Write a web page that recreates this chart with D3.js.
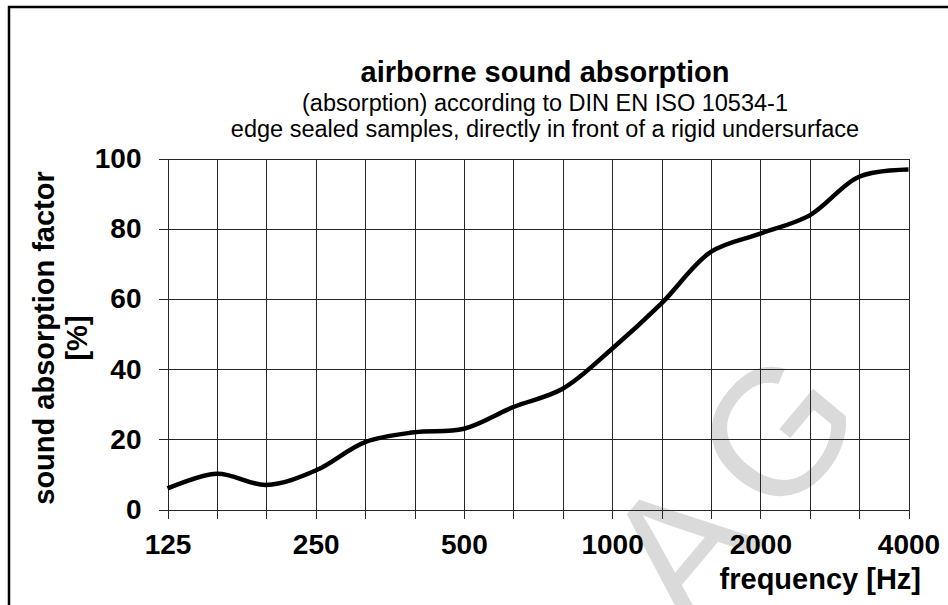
<!DOCTYPE html>
<html>
	<head>
		<script src="https://cdn.jsdelivr.net/npm/d3@7/dist/d3.min.js" charset="UTF-8"></script>
		<style type="text/css">
			body { margin: 0; background: #fff; }
			text { font-family: Arial, "Liberation Sans", sans-serif; }
			.grid line { stroke: #262626; stroke-width: 1; shape-rendering: crispEdges; }
			.grid path { display: none; }
			.grid text { font-size: 28px; font-weight: bold; fill: #000; }
		</style>
	</head>
	<body>
		<script type="text/javascript">
			var width = 948;
			var height = 605;

			// third octave bands and measured absorption [%]
			var bands = ["125", "160", "200", "250", "315", "400", "500", "630", "800",
				"1000", "1250", "1600", "2000", "2500", "3150", "4000"];
			var absorption = [6, 10.2, 7, 11.1, 19.2, 22, 23, 29.2, 34.4,
				45.8, 58.7, 73.4, 78.6, 83.8, 94.8, 96.9];
			var xLabels = ["125", "250", "500", "1000", "2000", "4000"];
			var yTicks = [0, 20, 40, 60, 80, 100];

			var plotLeft = 167.5, plotRight = 908.5, plotTop = 158.5, plotBottom = 509.5;

			var svg = d3.select("body")
				.append("svg")
				.attr("width", width)
				.attr("height", height);

			svg.append("rect")
				.attr("width", width).attr("height", height)
				.attr("fill", "#fff");

			// frame (right and bottom edge lie outside the picture)
			svg.append("rect")
				.attr("x", 9).attr("y", 7)
				.attr("width", width + 20).attr("height", height + 20)
				.attr("fill", "none")
				.attr("stroke", "#000")
				.attr("stroke-width", 2.5);

			// faint watermark
			svg.append("text")
				.attr("transform", "translate(882,403) rotate(-50)")
				.attr("text-anchor", "end")
				.attr("font-size", 180)
				.attr("letter-spacing", 20)
				.attr("fill", "#dadada")
				.text("h AG");

			var xScale = d3.scalePoint()
				.domain(bands)
				.range([plotLeft, plotRight]);

			var yScale = d3.scaleLinear()
				.domain([0, 100])
				.range([plotBottom, plotTop]);

			var xAxis = d3.axisBottom(xScale)
				.tickSizeInner(-(plotBottom + 9 - plotTop))
				.tickSizeOuter(0)
				.tickPadding(16)
				.tickFormat(function(d) { return xLabels.indexOf(d) >= 0 ? d : ""; });

			var yAxis = d3.axisLeft(yScale)
				.tickValues(yTicks)
				.tickSizeInner(-(plotRight - plotLeft + 9))
				.tickSizeOuter(0)
				.tickPadding(17);

			svg.append("g")
				.attr("class", "grid")
				.attr("transform", "translate(0," + (plotBottom + 9) + ")")
				.call(xAxis);

			svg.append("g")
				.attr("class", "grid")
				.attr("transform", "translate(" + (plotLeft - 9) + ",0)")
				.call(yAxis);

			var line = d3.line()
				.x(function(d, i) { return xScale(bands[i]); })
				.y(function(d) { return yScale(d); })
				.curve(d3.curveCatmullRom.alpha(0.5));

			svg.append("path")
				.datum(absorption)
				.attr("fill", "none")
				.attr("stroke", "#000")
				.attr("stroke-width", 4.5)
				.attr("stroke-linejoin", "round")
				.attr("d", line);

			// titles
			var cx = 545;
			svg.append("text")
				.attr("x", cx).attr("y", 82)
				.attr("text-anchor", "middle")
				.attr("font-size", 29).attr("font-weight", "bold")
				.text("airborne sound absorption");
			svg.append("text")
				.attr("x", cx).attr("y", 111)
				.attr("text-anchor", "middle")
				.attr("font-size", 23.5)
				.text("(absorption) according to DIN EN ISO 10534-1");
			svg.append("text")
				.attr("x", cx).attr("y", 137)
				.attr("text-anchor", "middle")
				.attr("font-size", 23.5)
				.text("edge sealed samples, directly in front of a rigid undersurface");

			svg.append("text")
				.attr("x", 921).attr("y", 589)
				.attr("text-anchor", "end")
				.attr("font-size", 29).attr("font-weight", "bold")
				.text("frequency [Hz]");

			var yMid = (plotTop + plotBottom) / 2 + 4;
			svg.append("text")
				.attr("transform", "translate(54," + yMid + ") rotate(-90)")
				.attr("text-anchor", "middle")
				.attr("font-size", 29).attr("font-weight", "bold")
				.text("sound absorption factor");
			svg.append("text")
				.attr("transform", "translate(87," + yMid + ") rotate(-90)")
				.attr("text-anchor", "middle")
				.attr("font-size", 29).attr("font-weight", "bold")
				.text("[%]");
		</script>
	</body>
</html>
